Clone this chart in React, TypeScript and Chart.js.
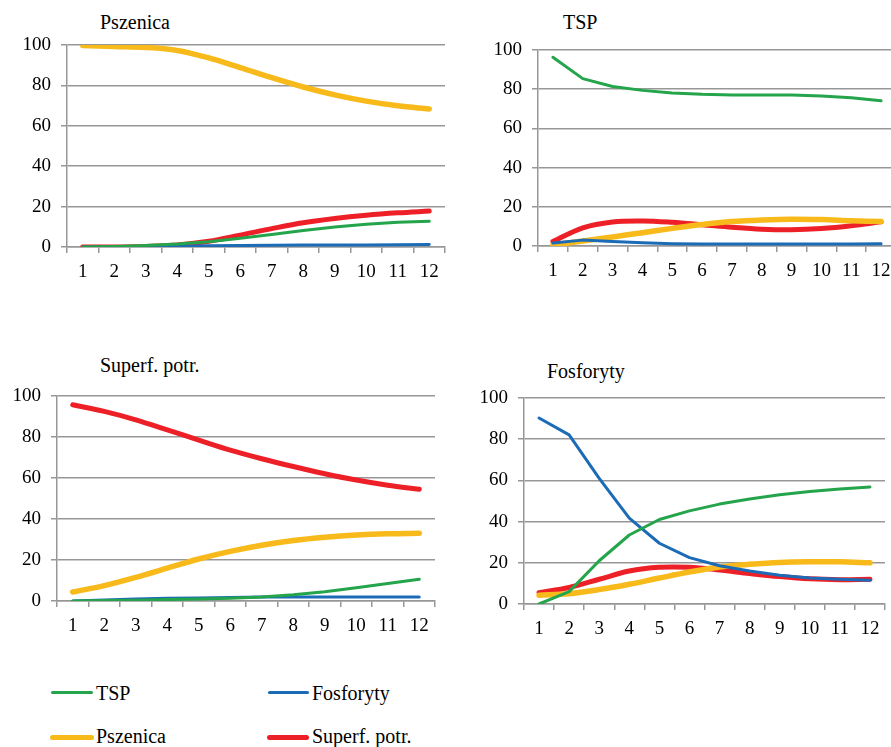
import React, { useEffect, useRef } from "react";
import { Chart, registerables } from "chart.js";

Chart.register(...registerables);

// ---------- data ----------
const categories = ["1", "2", "3", "4", "5", "6", "7", "8", "9", "10", "11", "12"];
const yTickValues = [0, 20, 40, 60, 80, 100];
const seriesNames = ["TSP", "Fosforyty", "Pszenica", "Superf. potr."];
const panelTitles = ["Pszenica", "TSP", "Superf. potr.", "Fosforyty"];

// Panel "Pszenica"
const pszenica_TSP = [0, 0.3, 0.8, 1.5, 2.6, 4.3, 6.2, 8.2, 9.9, 11.3, 12.2, 12.7];
const pszenica_Fosforyty = [0, 0, 0.2, 0.4, 0.6, 0.8, 0.9, 1, 1, 1, 1.1, 1.2];
const pszenica_Pszenica = [99.8, 99.3, 98.8, 97.3, 93.6, 88.8, 83.8, 79.2, 75.3, 72.2, 69.9, 68.3];
const pszenica_Superf = [0, 0, 0.3, 1, 2.8, 5.9, 9.1, 12, 14.1, 15.7, 16.9, 17.8];

// Panel "TSP"
const tsp_TSP = [96.3, 85.4, 81.4, 79.4, 78.1, 77.4, 77.1, 77, 77, 76.5, 75.6, 74.1];
const tsp_Fosforyty = [1.5, 3, 2.3, 1.6, 1.2, 1, 1, 1, 1, 1, 1, 1.2];
const tsp_Pszenica = [0.5, 2.5, 4.6, 6.8, 9, 11, 12.5, 13.3, 13.7, 13.5, 12.9, 12.5];
const tsp_Superf = [2.3, 9.3, 12.3, 12.8, 12.1, 10.9, 9.6, 8.6, 8.3, 8.9, 10.3, 12.3];

// Panel "Superf. potr."
const superf_TSP = [0, 0.2, 0.4, 0.7, 1, 1.4, 2, 3, 4.5, 6.5, 8.5, 10.6];
const superf_Fosforyty = [0, 0.5, 1, 1.3, 1.5, 1.7, 1.9, 2, 2, 2, 2, 2];
const superf_Pszenica = [4.4, 7.5, 11.5, 16, 20.5, 24.2, 27.2, 29.5, 31.1, 32.2, 32.8, 33];
const superf_Superf = [95.7, 92.5, 88.4, 83.5, 78.5, 73.6, 69.4, 65.6, 62.1, 59, 56.5, 54.5];

// Panel "Fosforyty"
const fosf_TSP = [0, 6, 21, 33.5, 41, 45.2, 48.5, 51, 53, 54.6, 55.8, 56.8];
const fosf_Fosforyty = [90.3, 82.1, 61, 41.7, 29.5, 22.5, 18.6, 16, 14, 12.6, 12, 11.5];
const fosf_Pszenica = [4.3, 5, 7, 9.6, 12.6, 15.5, 18, 19.3, 20.2, 20.5, 20.5, 20];
const fosf_Superf = [5.5, 8, 12, 16, 17.8, 17.8, 16.5, 14.8, 13.3, 12.2, 11.8, 12];

// ---------- styles ----------
const COLORS = ["#24A44B", "#1C6BB6", "#F8BA1A", "#ED2027"];
const WIDTHS = [3, 3, 5.5, 5];
const TENSIONS = [0, 0, 0.35, 0.35];
const GRID = "#979797";
const FONT = "'Liberation Serif', 'Times New Roman', Tinos, 'DejaVu Serif', serif";
const PAD_TOP = 24;

type PanelGeom = {
  left: number;
  areaTop: number;
  width: number;
  areaBottom: number;
  yWidth: number;
  xHeight: number;
  padRight: number;
};

function Panel(props: { series: number[][]; geom: PanelGeom }) {
  const ref = useRef<HTMLCanvasElement | null>(null);
  const { series, geom } = props;
  const top = geom.areaTop - PAD_TOP;
  const height = geom.areaBottom + geom.xHeight - top;
  useEffect(() => {
    if (!ref.current) return;
    const chart = new Chart(ref.current, {
      type: "line",
      data: {
        labels: categories,
        datasets: series.map((d, i) => ({
          label: seriesNames[i],
          data: d,
          borderColor: COLORS[i],
          backgroundColor: COLORS[i],
          borderWidth: WIDTHS[i],
          pointRadius: 0,
          tension: TENSIONS[i],
          borderCapStyle: "round" as const,
          borderJoinStyle: "round" as const,
          fill: false,
        })),
      },
      options: {
        responsive: false,
        animation: false,
        devicePixelRatio: 1,
        layout: {
          padding: { top: PAD_TOP, right: geom.padRight, left: 0, bottom: 0 },
        },
        plugins: {
          legend: { display: false },
          tooltip: { enabled: false },
          title: { display: false },
        },
        scales: {
          x: {
            type: "category",
            offset: true,
            grid: {
              display: true,
              drawOnChartArea: false,
              drawTicks: true,
              tickLength: 6,
              color: GRID,
              lineWidth: 1.5,
              offset: true,
            },
            border: { display: true, color: GRID, width: 1.5 },
            ticks: {
              color: "#000",
              font: { family: FONT, size: 19 },
              padding: 8,
              maxRotation: 0,
              autoSkip: false,
            },
            afterFit: (s: any) => {
              s.height = geom.xHeight;
            },
          },
          y: {
            min: 0,
            max: 100,
            afterBuildTicks: (s: any) => {
              s.ticks = yTickValues.map((v) => ({ value: v }));
            },
            grid: {
              color: GRID,
              lineWidth: 1.5,
              drawTicks: true,
              tickLength: 6,
            },
            border: { display: true, color: GRID, width: 1.5 },
            ticks: {
              color: "#000",
              font: { family: FONT, size: 19 },
              padding: 10,
            },
            afterFit: (s: any) => {
              s.width = geom.yWidth;
            },
          },
        },
      },
    });
    return () => chart.destroy();
  }, []);
  return (
    <canvas
      ref={ref}
      width={geom.width}
      height={height}
      style={{
        position: "absolute",
        left: geom.left,
        top,
        width: geom.width,
        height,
      }}
    />
  );
}

const textStyle = (left: number, top: number): React.CSSProperties => ({
  position: "absolute",
  left,
  top,
  fontFamily: FONT,
  fontSize: 20,
  lineHeight: "20px",
  color: "#000",
  whiteSpace: "nowrap",
});

const legendLine = (left: number, cy: number, w: number, color: string, h: number): React.CSSProperties => ({
  position: "absolute",
  left,
  top: cy - h / 2,
  width: w,
  height: h,
  background: color,
  borderRadius: h / 2,
});

export default function App() {
  return (
    <div
      style={{
        position: "absolute",
        left: 0,
        top: 0,
        width: 891,
        height: 747,
        overflow: "hidden",
        background: "#fff",
        fontFamily: FONT,
      }}
    >
      <div style={textStyle(100, 11.5)}>{panelTitles[0]}</div>
      <div style={textStyle(563, 11.5)}>{panelTitles[1]}</div>
      <div style={textStyle(100, 355)}>{panelTitles[2]}</div>
      <div style={textStyle(547, 360.5)}>{panelTitles[3]}</div>

      <Panel
        series={[pszenica_TSP, pszenica_Fosforyty, pszenica_Pszenica, pszenica_Superf]}
        geom={{ left: 0, areaTop: 45, areaBottom: 247, width: 450, yWidth: 67, xHeight: 36, padRight: 5 }}
      />
      <Panel
        series={[tsp_TSP, tsp_Fosforyty, tsp_Pszenica, tsp_Superf]}
        geom={{ left: 450, areaTop: 50, areaBottom: 246, width: 450, yWidth: 88, xHeight: 40, padRight: 4 }}
      />
      <Panel
        series={[superf_TSP, superf_Fosforyty, superf_Pszenica, superf_Superf]}
        geom={{ left: 0, areaTop: 396, areaBottom: 601, width: 440, yWidth: 57, xHeight: 33, padRight: 5 }}
      />
      <Panel
        series={[fosf_TSP, fosf_Fosforyty, fosf_Pszenica, fosf_Superf]}
        geom={{ left: 450, areaTop: 398, areaBottom: 604, width: 441, yWidth: 74, xHeight: 32, padRight: 6 }}
      />

      <div style={legendLine(51, 692, 42, COLORS[0], 3)} />
      <div style={textStyle(96, 683)}>{seriesNames[0]}</div>
      <div style={legendLine(268, 692, 41, COLORS[1], 3)} />
      <div style={textStyle(312, 683)}>{seriesNames[1]}</div>
      <div style={legendLine(50, 737, 44, COLORS[2], 5)} />
      <div style={textStyle(96, 726)}>{seriesNames[2]}</div>
      <div style={legendLine(267, 737, 42, COLORS[3], 5)} />
      <div style={textStyle(312, 726)}>{seriesNames[3]}</div>
    </div>
  );
}
